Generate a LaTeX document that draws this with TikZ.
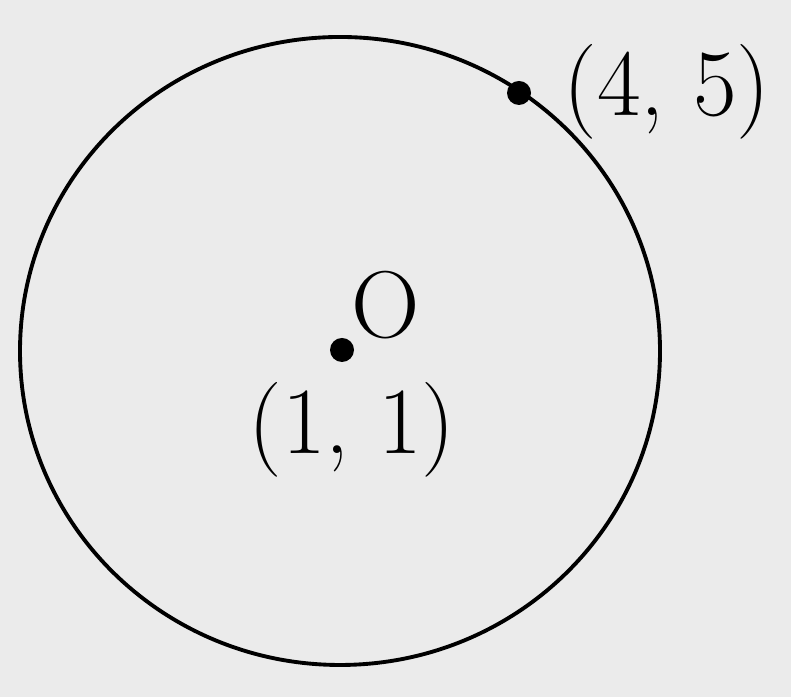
\documentclass[tikz,border=0pt]{standalone}
\usetikzlibrary{positioning}
\begin{document}
\begin{tikzpicture}[
    dot/.style={circle, fill=black, inner sep=0pt, minimum size=0.24cm},
    lbl/.style={inner sep=0pt, font=\fontsize{27}{32}\selectfont}
]
    % paper and frame
    \fill[black!8] (0,0) rectangle (7.91,6.97);
    \useasboundingbox (0,0) rectangle (7.91,6.97);

    \node[dot] (ctr) at (3.42, 3.47) {};
    \node[dot] (pt)  at (5.19, 6.04) {};

    \draw[line width=1.1pt] (3.40, 3.46) ellipse [x radius=3.20cm, y radius=3.14cm];

    \node[lbl] (olbl) at (3.86, 3.92) {O};
    \node[lbl] (clbl) at (3.52, 2.67) {(1, 1)};
    \node[lbl] (plbl) at (6.67, 6.05) {(4, 5)};
\end{tikzpicture}
\end{document}
